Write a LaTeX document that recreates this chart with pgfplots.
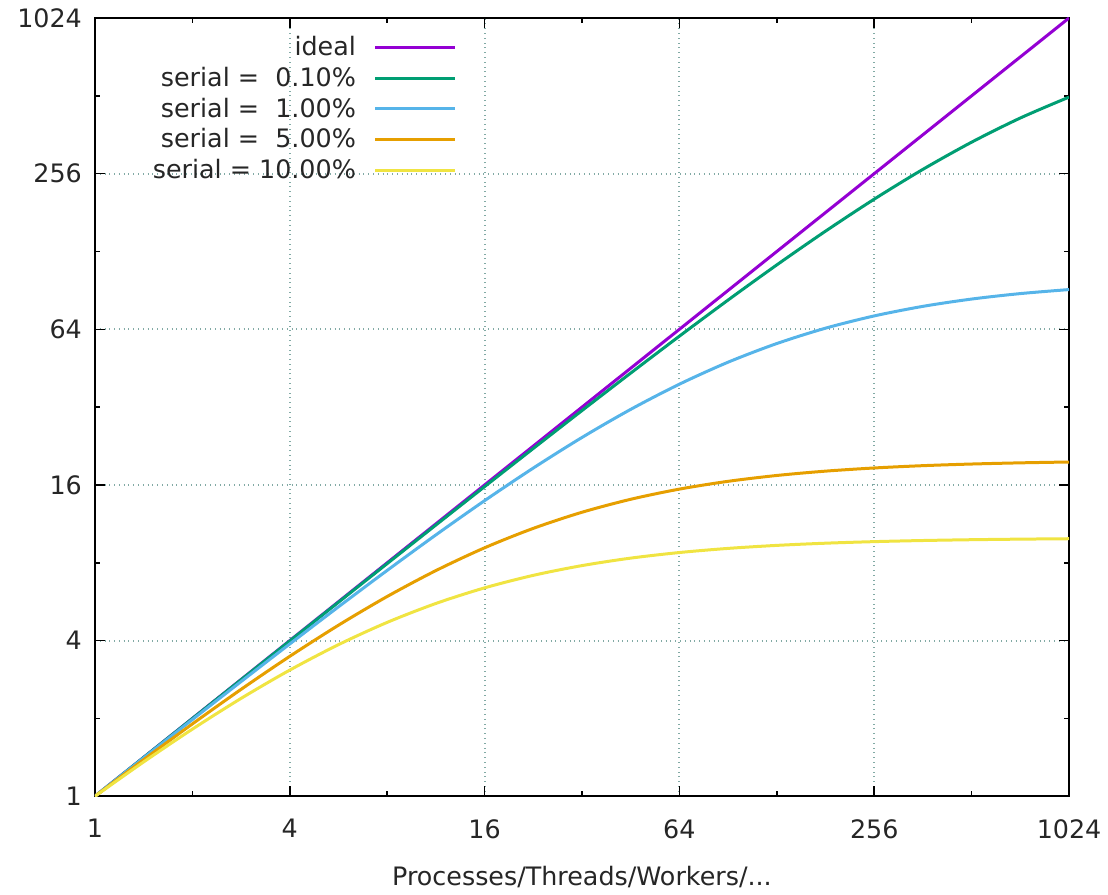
\documentclass[border=0pt]{standalone}
\usepackage{pgfplots}
\pgfplotsset{compat=1.18}
\usepackage{pgfplotstable}
\usepackage{fontspec}
\setmainfont{DejaVu Sans}
\newcommand\cf{\fontsize{12.7pt}{15pt}\selectfont}
\definecolor{gpPurple}{HTML}{9400D3}
\definecolor{gpGreen}{HTML}{009E73}
\definecolor{gpBlue}{HTML}{56B4E9}
\definecolor{gpOrange}{HTML}{E69F00}
\definecolor{gpYellow}{HTML}{F0E442}
\definecolor{gridc}{RGB}{130,170,165}
\pgfplotstableread{
N s01 s1 s5 s10
1 1 1 1 1
1.41421 1.4136 1.4084 1.3855 1.3580
2 1.998 1.9802 1.9048 1.8182
2.82843 2.8233 2.7776 2.5915 2.3912
4 3.988 3.8835 3.4783 3.0769
5.65685 5.6306 5.4051 4.5884 3.8595
8 7.944 7.4766 5.9259 4.7059
11.3137 11.198 10.256 7.4645 5.5695
16 15.764 13.913 9.1429 6.4
22.6274 22.148 18.604 10.871 7.1544
32 31.04 24.427 12.549 7.8049
45.2548 43.337 31.371 14.086 8.3411
64 60.21 39.264 15.422 8.7671
90.5097 83.08 47.760 16.530 9.0956
128 113.58 56.388 17.415 9.3431
181.019 153.40 64.645 18.100 9.5264
256 203.98 72.113 18.618 9.6604
362.039 266.00 78.527 19.003 9.7574
512 338.85 83.797 19.284 9.8273
724.077 420.22 87.972 19.489 9.8772
1024 506.18 91.184 19.636 9.9129
}\amdahl
\begin{document}
\begin{tikzpicture}
\begin{axis}[
  scale only axis,
  width=487.5pt, height=389.5pt,
  xmode=log, ymode=log,
  xmin=1, xmax=1024, ymin=1, ymax=1024,
  xtick={1,4,16,64,256,1024},
  ytick={1,4,16,64,256,1024},
  xticklabels={1,4,16,64,256,1024},
  yticklabels={1,4,16,64,256,1024},
  minor tick num=0,
  extra x ticks={2,8,32,128,512},
  extra y ticks={2,8,32,128,512},
  extra x tick labels={},
  extra y tick labels={},
  extra tick style={major tick length=2.5pt, grid=none},
  tick align=inside,
  major tick length=5pt,
  every tick/.style={black, line width=0.8pt},
  axis line style={black, line width=1pt},
  xmajorgrids, ymajorgrids,
  major grid style={gridc, dotted, line width=1pt},
  tick label style={font=\cf, text=black!85},
  xticklabel style={yshift=-8pt},
  yticklabel style={xshift=-3pt},
  xlabel={Processes/Threads/Workers/...},
  xlabel style={font=\cf, text=black!85, yshift=-7pt},
  legend plot pos=right,
  legend cell align=right,
  legend style={draw=none, fill=none, font=\cf, text=black!85,
    at={(rel axis cs:0.374,0.985)}, anchor=north east,
    row sep=0.3pt, column sep=7pt, inner sep=1pt},
  legend image code/.code={\draw[#1] (0pt,0pt) -- (40pt,0pt);},
  every axis plot/.append style={line width=1.5pt},
]
\addplot[gpPurple] coordinates {(1,1) (1024,1024)};
\addlegendentry{ideal}
\addplot[gpGreen, smooth] table[x=N, y=s01] {\amdahl};
\addlegendentry{serial = \ 0.10\%}
\addplot[gpBlue, smooth] table[x=N, y=s1] {\amdahl};
\addlegendentry{serial = \ 1.00\%}
\addplot[gpOrange, smooth] table[x=N, y=s5] {\amdahl};
\addlegendentry{serial = \ 5.00\%}
\addplot[gpYellow, smooth] table[x=N, y=s10] {\amdahl};
\addlegendentry{serial = 10.00\%}
\end{axis}
\path (current axis.south west) ++(-47.5pt,-47.5pt);
\path (current axis.north east) ++(19pt,9pt);
\end{tikzpicture}
\end{document}
